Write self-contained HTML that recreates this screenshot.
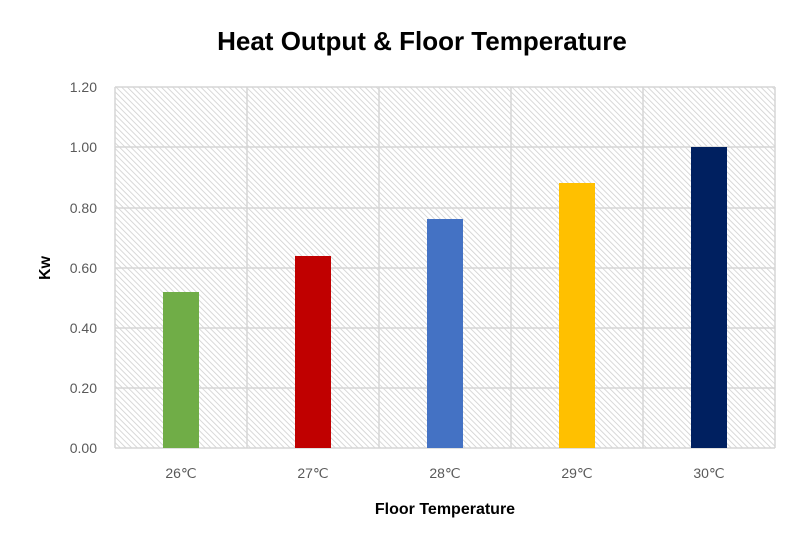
<!DOCTYPE html>
<html><head><meta charset="utf-8"><style>body{margin:0;background:#fff}svg{display:block}</style></head><body>
<svg width="800" height="546" viewBox="0 0 800 546" xmlns="http://www.w3.org/2000/svg" font-family="Liberation Sans, sans-serif">
<defs>
<pattern id="h" width="4" height="4" patternUnits="userSpaceOnUse" patternTransform="rotate(-45)">
<rect width="4" height="4" fill="#fff"/><line x1="0" y1="0" x2="0" y2="4" stroke="#cfcfcf" stroke-width="1.6"/>
</pattern>
</defs>
<rect x="0" y="0" width="800" height="546" fill="#fff"/>
<text x="422" y="50" text-anchor="middle" font-size="26" font-weight="bold" fill="#000">Heat Output &amp; Floor Temperature</text>
<rect x="115" y="87" width="660" height="361" fill="url(#h)"/>
<g stroke="#d6d6d6" stroke-width="1.5" fill="none">
<line x1="115" y1="87" x2="775" y2="87"/>
<line x1="115" y1="147" x2="775" y2="147"/>
<line x1="115" y1="208" x2="775" y2="208"/>
<line x1="115" y1="268" x2="775" y2="268"/>
<line x1="115" y1="328" x2="775" y2="328"/>
<line x1="115" y1="388" x2="775" y2="388"/>
<line x1="115" y1="448" x2="775" y2="448"/>
<line x1="115" y1="87" x2="115" y2="448"/>
<line x1="247" y1="87" x2="247" y2="448"/>
<line x1="379" y1="87" x2="379" y2="448"/>
<line x1="511" y1="87" x2="511" y2="448"/>
<line x1="643" y1="87" x2="643" y2="448"/>
<line x1="775" y1="87" x2="775" y2="448"/>
</g>
<rect x="163" y="292" width="36" height="156" fill="#70ad47"/>
<rect x="295" y="256" width="36" height="192" fill="#c00000"/>
<rect x="427" y="219" width="36" height="229" fill="#4472c4"/>
<rect x="559" y="183" width="36" height="265" fill="#ffc000"/>
<rect x="691" y="147" width="36" height="301" fill="#002060"/>
<g font-size="14" fill="#595959" text-anchor="end">
<text x="97" y="92">1.20</text>
<text x="97" y="152">1.00</text>
<text x="97" y="213">0.80</text>
<text x="97" y="273">0.60</text>
<text x="97" y="333">0.40</text>
<text x="97" y="393">0.20</text>
<text x="97" y="453">0.00</text>
</g>
<g font-size="14" fill="#595959" text-anchor="middle">
<text x="181" y="478">26℃</text>
<text x="313" y="478">27℃</text>
<text x="445" y="478">28℃</text>
<text x="577" y="478">29℃</text>
<text x="709" y="478">30℃</text>
</g>
<text x="445" y="514" text-anchor="middle" font-size="16" font-weight="bold" fill="#000">Floor Temperature</text>
<text transform="translate(50,268) rotate(-90)" text-anchor="middle" font-size="16" font-weight="bold" fill="#000">Kw</text>
</svg>
</body></html>
